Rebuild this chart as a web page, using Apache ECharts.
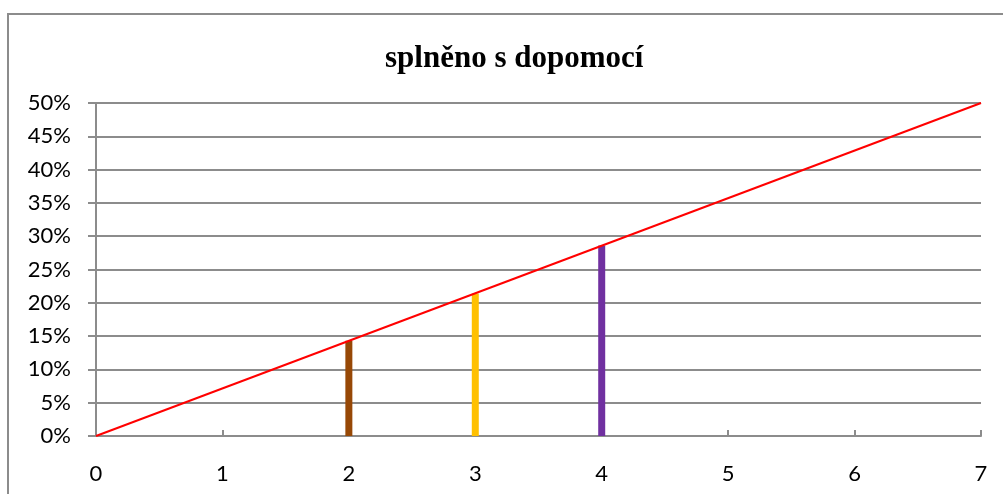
<!DOCTYPE html>
<html>
<head>
<meta charset="utf-8">
<script src="https://cdn.jsdelivr.net/npm/echarts@6/dist/echarts.min.js"></script>
<style>
  html, body { margin: 0; padding: 0; background: #fff; }
  #chart { width: 1003px; height: 494px; }
</style>
</head>
<body>
<div id="chart"></div>
<script>
// Vertical markers: position on x, reached share, colour
const barX = [2, 3, 4];
const barValues = [0.143, 0.214, 0.286];
const barColors = ['#974806', '#ffc000', '#7030a0'];

// Reference line from origin to the end of the range
const lineX = [0, 7];
const lineValues = [0, 0.5];

const chartTitle = 'splněno s dopomocí';

const gridColor = '#8c8c8c';
const labelFont = 'Lato, "Noto Sans", sans-serif';

const chart = echarts.init(document.getElementById('chart'));
chart.setOption({
  animation: false,
  graphic: [{
    type: 'rect',
    shape: { x: 8, y: 14, width: 1200, height: 700 },
    style: { fill: 'none', stroke: '#8c8c8c', lineWidth: 2 },
    silent: true
  }],
  title: {
    text: chartTitle,
    left: 380,
    top: 38,
    textStyle: {
      fontFamily: '"Liberation Serif", "Times New Roman", serif',
      fontWeight: 'bold',
      fontSize: 31,
      color: '#000'
    }
  },
  grid: { left: 96, right: 22, top: 103, bottom: 58 },
  xAxis: {
    type: 'value',
    min: 0, max: 7, interval: 1,
    axisLine: { show: true, lineStyle: { color: gridColor, width: 2 } },
    axisTick: { show: true, inside: true, length: 6, lineStyle: { color: gridColor, width: 2 } },
    splitLine: { show: false },
    axisLabel: { color: '#000', fontSize: 22, fontFamily: labelFont, margin: 27 }
  },
  yAxis: {
    type: 'value',
    min: 0, max: 0.5, interval: 0.05,
    axisLine: { show: true, lineStyle: { color: gridColor, width: 2 } },
    axisTick: { show: true, length: 8, lineStyle: { color: gridColor, width: 2 } },
    splitLine: { show: true, lineStyle: { color: gridColor, width: 2 } },
    axisLabel: {
      color: '#000', fontSize: 22, fontFamily: labelFont, margin: 25,
      formatter: v => Math.round(v * 100) + '%'
    }
  },
  series: [
    {
      type: 'bar',
      barWidth: 7,
      data: barX.map((x, i) => ({ value: [x, barValues[i]], itemStyle: { color: barColors[i] } })),
      z: 2
    },
    {
      type: 'line',
      data: lineX.map((x, i) => [x, lineValues[i]]),
      showSymbol: false,
      symbol: 'none',
      lineStyle: { color: '#ff0000', width: 2 },
      z: 3
    }
  ]
});
</script>
</body>
</html>
